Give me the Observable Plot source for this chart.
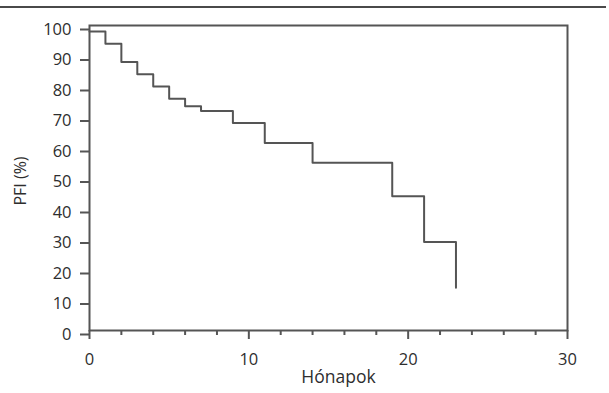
<!DOCTYPE html>
<html>
<head>
<meta charset="utf-8">
<script src="https://cdn.jsdelivr.net/npm/d3@7"></script>
<script src="https://cdn.jsdelivr.net/npm/@observablehq/plot@0.6"></script>
<style>
  html, body { margin: 0; padding: 0; background: #fff; }
  #wrap { position: relative; width: 609px; height: 393px; }
  #rule { position: absolute; left: 0; top: 6px; width: 606px; height: 2px; background: #4a4a4a; }
  #wrap svg { position: absolute; left: 0; top: 0; }
</style>
</head>
<body>
<div id="wrap"><div id="rule"></div></div>
<script>
// Kaplan–Meier style step curve: months and PFI (%)
const months = [0, 1, 2, 3, 4, 5, 6, 7, 9, 11, 14, 19, 21, 23];
const pfi    = [98, 94, 88, 84, 80, 76, 73.5, 72, 68, 61.5, 55, 44, 29, 14];
const yTicks = [0, 10, 20, 30, 40, 50, 60, 70, 80, 90, 100];
const xMajorTicks = [0, 10, 20, 30];
const xMinorTicks = [2, 4, 6, 8, 12, 14, 16, 18, 22, 24, 26, 28];
const xTitle = "Hónapok";
const yTitle = "PFI (%)";

const data = months.map((m, i) => ({month: m, pfi: pfi[i]}));

const ink = "#555555";
const textInk = "#2e2e2e";

const chart = Plot.plot({
  width: 609,
  height: 393,
  marginLeft: 89,
  marginRight: 42,
  marginTop: 25,
  marginBottom: 63,
  style: {fontFamily: "'Open Sans', sans-serif", fontSize: "16px", color: textInk, background: "transparent"},
  x: {domain: [0, 30]},
  y: {domain: [0, 100]},
  marks: [
    Plot.frame({stroke: ink, strokeWidth: 2}),
    Plot.axisY({ticks: yTicks, tickSize: 9, tickPadding: 9, stroke: ink, strokeWidth: 2, fill: textInk, fontSize: 16.5, dy: 4, label: null}),
    Plot.axisX({ticks: xMajorTicks, tickSize: 9, tickPadding: 14, stroke: ink, strokeWidth: 2, fill: textInk, fontSize: 16.5, label: null}),
    Plot.axisX({ticks: xMinorTicks, tickSize: 5, text: null, stroke: ink, strokeWidth: 2, label: null}),
    Plot.line(data, {x: "month", y: "pfi", curve: "step-after", stroke: ink, strokeWidth: 2}),
    Plot.text([xTitle], {frameAnchor: "bottom", dx: 10, dy: 52, fontSize: 17.5, fill: textInk}),
    Plot.text([yTitle], {frameAnchor: "left", textAnchor: "middle", rotate: -90, dx: -69, dy: 3, fontSize: 16, fill: textInk})
  ]
});
document.getElementById("wrap").appendChild(chart);
</script>
</body>
</html>
